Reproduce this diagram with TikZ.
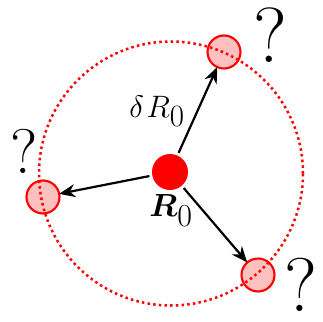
\RequirePackage{fix-cm}
\documentclass[tikz,border=0pt]{standalone}
\usepackage{amsmath,amssymb}
\usepackage{xcolor}
\usetikzlibrary{positioning,arrows.meta}
\definecolor{DotRed}{HTML}{FF0000}
\definecolor{SiteFill}{HTML}{FFC0C0}

\tikzset{
  origin/.style={circle, fill=DotRed, minimum size=36pt, inner sep=0pt, outer sep=0pt},
  site/.style={circle, draw=DotRed, fill=SiteFill, line width=2.1pt, minimum size=33pt, inner sep=0pt, outer sep=0pt},
  hop/.style={-{Stealth[length=16pt,width=13pt]}, line width=2.2pt, shorten <=3pt},
  query/.style={inner sep=0pt}
}

\begin{document}
\begin{tikzpicture}[x=1pt, y=-1pt]
    \useasboundingbox (0,0) rectangle (323,321);
    % sites on the shell
    \node[site] (top) at (224,52) {};
    \node[site] (left) at (43,197) {};
    \node[site] (bot) at (258,275) {};
    % shell of radius delta R0
    \draw[DotRed, line width=2.5pt, dash pattern=on 2.5pt off 3.2pt] (171,173.5) circle[radius=132pt];
    \node[origin] (ctr) at (170,172) {};
    \draw[hop] (ctr) -- (top);
    \draw[hop] (ctr) -- (left);
    \draw[hop] (ctr) -- (bot);
    % labels
    \node[below=1pt of ctr, xshift=1pt, font=\fontsize{32}{32}\selectfont] (pos) {$\boldsymbol{R}_{\textstyle 0}$};
    \node[font=\fontsize{31}{31}\selectfont] (step) at (157,111) {$\delta\mkern1.5mu R_{\textstyle 0}$};
    \node[query, font=\fontsize{78}{78}\selectfont] (qtop) at (270,35) {?};
    \node[query, font=\fontsize{63}{63}\selectfont] (qleft) at (24,151) {?};
    \node[query, font=\fontsize{76}{76}\selectfont] (qbot) at (301,285) {?};
\end{tikzpicture}
\end{document}
